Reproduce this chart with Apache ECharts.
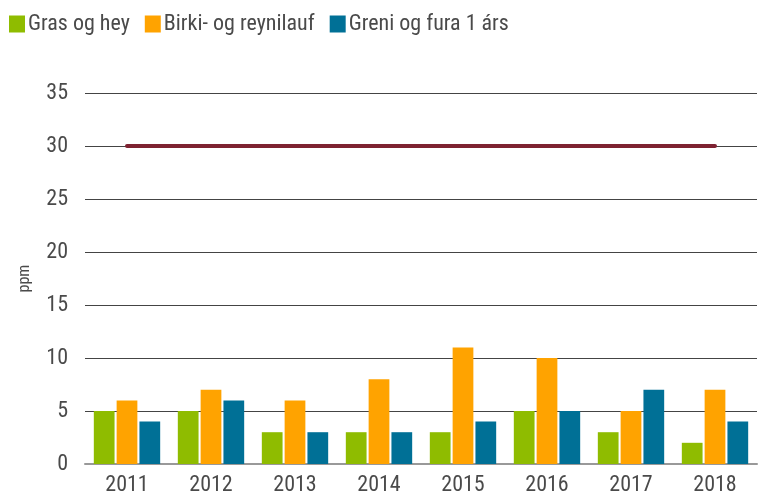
<!DOCTYPE html>
<html><head><meta charset="utf-8">
<script src="https://cdn.jsdelivr.net/npm/echarts@6/dist/echarts.min.js"></script>
<style>html,body{margin:0;padding:0;background:#fff}#c{width:771px;height:496px}</style>
</head><body><div id="c"></div>
<script>
const categories = ['2011','2012','2013','2014','2015','2016','2017','2018'];
const grasOgHey = [5,5,3,3,3,5,3,2];
const birkiOgReynilauf = [6,7,6,8,11,10,5,7];
const greniOgFura = [4,6,3,3,4,5,7,4];
const limitLine = [30,30,30,30,30,30,30,30];
const seriesNames = ['Gras og hey','Birki- og reynilauf','Greni og fura 1 árs'];
const colors = ['#8fbc00','#ffa300','#007096'];
const font = '"Liberation Sans Narrow", "Roboto Condensed", Roboto, sans-serif';
const chart = echarts.init(document.getElementById('c'));
chart.setOption({
  animation:false,
  textStyle:{fontFamily:font},
  legend:{
    data:seriesNames,
    left:4, top:8,
    itemWidth:16, itemHeight:17, itemGap:15,
    icon:'rect',
    textStyle:{fontSize:22, color:'#4a4a4a', fontFamily:font, padding:[0,0,0,-2]}
  },
  grid:{left:85, right:14, top:93, bottom:31},
  xAxis:{
    type:'category', data:categories,
    axisLine:{lineStyle:{color:'#999', width:2}},
    axisTick:{show:false},
    axisLabel:{fontSize:22, color:'#4a4a4a', margin:10, fontFamily:font}
  },
  yAxis:{
    type:'value', min:0, max:35, interval:5,
    name:'ppm', nameLocation:'middle', nameGap:52, nameRotate:90,
    nameTextStyle:{fontSize:16, color:'#4a4a4a', fontFamily:font},
    axisLine:{show:false}, axisTick:{show:false},
    axisLabel:{fontSize:22, color:'#4a4a4a', margin:17, fontFamily:font},
    splitLine:{lineStyle:{color:'#444', width:1}}
  },
  series:[
    {name:seriesNames[0], type:'bar', data:grasOgHey, itemStyle:{color:colors[0]}, barGap:'10%', barCategoryGap:'21%'},
    {name:seriesNames[1], type:'bar', data:birkiOgReynilauf, itemStyle:{color:colors[1]}, barGap:'10%', barCategoryGap:'21%'},
    {name:seriesNames[2], type:'bar', data:greniOgFura, itemStyle:{color:colors[2]}, barGap:'10%', barCategoryGap:'21%'},
    {name:'limit', type:'line', data:limitLine, showSymbol:false, symbol:'none',
     lineStyle:{color:'#7e2231', width:4, cap:'round'}, z:5}
  ]
});
</script></body></html>
